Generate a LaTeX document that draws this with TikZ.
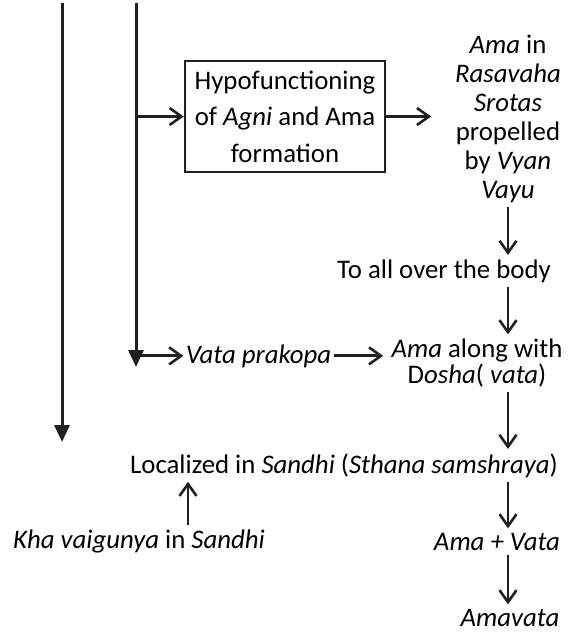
\documentclass[tikz,border=0pt]{standalone}
\usepackage{fontspec}
\setmainfont{Carlito}
\usetikzlibrary{arrows.meta}
\definecolor{flowink}{HTML}{231F20}

\begin{document}
\begin{tikzpicture}[
x=0.5pt,y=-0.5pt,
every node/.style={font=\fontsize{13.4}{14.5}\selectfont,inner xsep=1pt,inner ysep=2pt},
box/.style={draw=flowink,line width=1.2pt,align=center,minimum width=100pt,
minimum height=55.5pt,font=\fontsize{13.4}{18.25}\selectfont},
txt/.style={align=center},
arr/.style={draw=flowink,line width=1.4pt,
-{Straight Barb[length=6pt,width=8.5pt,line width=1.3pt]}},
down/.style={draw=flowink,line width=1.5pt,-{Triangle[length=8.5pt,width=7.5pt]}}
]
\useasboundingbox (0,0) rectangle (572,633);

% the two incoming lines
\coordinate (top1) at (62,3);
\coordinate (end1) at (62,442);
\coordinate (top2) at (136,3);
\coordinate (end2) at (136,367);

\node[box] (hypo) at (285,116.5) {Hypofunctioning\\ of \textit{Agni} and Ama\\ formation};
\node[txt,inner xsep=11.75pt] (rasa) at (508,118.5)
{\textit{Ama} in\\ \textit{Rasavaha}\\ \textit{Srotas}\\ propelled\\ by \textit{Vyan}\\ \textit{Vayu}};
\node[anchor=base] (body) at (444,278) {To all over the body};
\node[anchor=base] (vata) at (258.5,363) {\textit{Vata prakopa}};
\node[txt,inner xsep=4pt,font=\fontsize{13.4}{13}\selectfont] (dosha) at (477,363)
{\textit{Ama} along with\\ D\textit{osha}( \textit{vata})};
\node[anchor=base] (local) at (344,473)
{Localized in \textit{Sandhi} (\textit{Sthana samshraya})};
\node[anchor=base] (kha) at (139,548) {\textit{Kha vaigunya} in \textit{Sandhi}};
\node[anchor=base] (amavata1) at (497,550) {\textit{Ama + Vata}};
\node[anchor=base] (amavata) at (510,626) {\textit{Amavata}};

\draw[down] (top1) -- (end1);
\draw[down] (top2) -- (end2);
\draw[arr] (top2 |- hypo.west) -- (hypo.west);
\draw[arr] (hypo.east) -- (hypo.east -| rasa.west);
\draw[arr] (rasa.south) -- (rasa.south |- body.north);
\draw[arr] (body.south -| rasa.south) -- (rasa.south |- dosha.north);
\draw[arr] (top2 |- vata.west) -- (vata.west);
\draw[arr] (vata.east) -- (vata.east -| dosha.west);
\draw[arr] (dosha.south -| rasa.south) -- (rasa.south |- local.north);
\draw[arr] (local.south -| rasa.south) -- (rasa.south |- amavata1.north);
\draw[arr] (amavata1.south -| rasa.south) -- (rasa.south |- amavata.north);
\draw[arr] ([xshift=24.5pt]kha.north) -- ([xshift=24.5pt]kha.north |- local.south);
\end{tikzpicture}
\end{document}
